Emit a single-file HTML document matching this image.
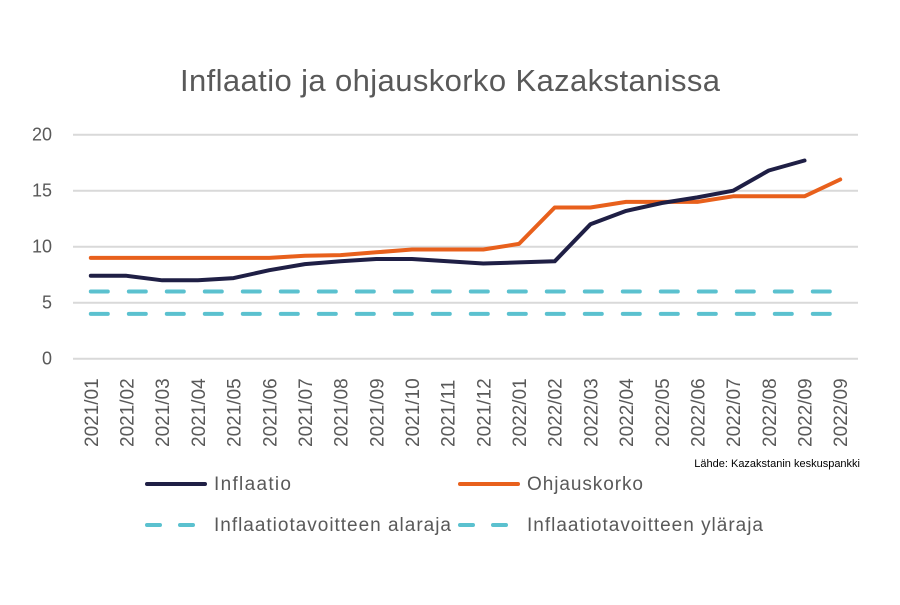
<!DOCTYPE html>
<html><head><meta charset="utf-8"><style>
body{margin:0;background:#fff;}
svg text{font-family:"Liberation Sans",sans-serif;fill:#595959;}
</style></head><body>
<svg id="c" width="900" height="600" xmlns="http://www.w3.org/2000/svg">
<rect width="900" height="600" fill="#fff"/>
<text x="450" y="91" font-size="31" text-anchor="middle" textLength="540">Inflaatio ja ohjauskorko Kazakstanissa</text>
<g id="grid"></g><g id="yt"></g><g id="xt"></g><g id="series"></g>
<text x="860" y="467" font-size="11" text-anchor="end" fill="#000" style="fill:#000">Lähde: Kazakstanin keskuspankki</text>
<g>
<g><line x1="147" y1="484" x2="205" y2="484" stroke="#1f1f45" stroke-width="4" stroke-linecap="round"/><text x="214" y="490" font-size="19" textLength="77">Inflaatio</text></g>
<g><line x1="460" y1="484" x2="518" y2="484" stroke="#e8601c" stroke-width="4" stroke-linecap="round"/><text x="527" y="490" font-size="19" textLength="116">Ohjauskorko</text></g>
<g><line x1="147" y1="525" x2="205" y2="525" stroke="#5bc1cf" stroke-width="4" stroke-linecap="round" stroke-dasharray="13 20"/><text x="214" y="531" font-size="19" textLength="237">Inflaatiotavoitteen alaraja</text></g>
<g><line x1="460" y1="525" x2="518" y2="525" stroke="#5bc1cf" stroke-width="4" stroke-linecap="round" stroke-dasharray="13 20"/><text x="527" y="531" font-size="19" textLength="236">Inflaatiotavoitteen yläraja</text></g>
</g>
</svg>
<script>
const categories=["2021/01","2021/02","2021/03","2021/04","2021/05","2021/06","2021/07","2021/08","2021/09","2021/10","2021/11","2021/12","2022/01","2022/02","2022/03","2022/04","2022/05","2022/06","2022/07","2022/08","2022/09","2022/09"];
const inflaatio=[7.4,7.4,7.0,7.0,7.2,7.9,8.45,8.7,8.9,8.9,8.7,8.5,8.6,8.7,12.0,13.2,13.9,14.4,15.0,16.8,17.7,null];
const ohjauskorko=[9,9,9,9,9,9,9.2,9.25,9.5,9.75,9.75,9.75,10.25,13.5,13.5,14,14,14,14.5,14.5,14.5,16];
const alaraja=[4,4,4,4,4,4,4,4,4,4,4,4,4,4,4,4,4,4,4,4,4,4];
const ylaraja=[6,6,6,6,6,6,6,6,6,6,6,6,6,6,6,6,6,6,6,6,6,6];
const yTicks=[0,5,10,15,20];
const NS="http://www.w3.org/2000/svg";
const L=73,R=858,T=134.7,B=358.7;
const slot=(R-L)/categories.length;
const x=i=>L+slot*(i+0.5);
const y=v=>B-(v/20)*(B-T);
function mk(t,a,p){const e=document.createElementNS(NS,t);for(const k in a)e.setAttribute(k,a[k]);p.appendChild(e);return e;}
const grid=document.getElementById('grid'),yt=document.getElementById('yt'),xt=document.getElementById('xt'),ser=document.getElementById('series');
yTicks.forEach(v=>{
const g=mk('line',{x1:L,x2:R,y1:y(v),y2:y(v),stroke:'#d9d9d9','stroke-width':2},grid);


const t=mk('text',{x:52,y:y(v)+6,'font-size':18,'text-anchor':'end'},yt);t.textContent=v;


});
categories.forEach((c,i)=>{
const t=mk('text',{transform:`translate(${x(i)+7},447) rotate(-90)`,'font-size':19},xt);t.textContent=c;


});
function path(arr){let d='';let s=false;arr.forEach((v,i)=>{if(v==null){s=false;return;}d+=(s?'L':'M')+x(i).toFixed(1)+','+y(v).toFixed(1);s=true;});return d;}
[[alaraja,'#5bc1cf',true,'line-alaraja'],[ylaraja,'#5bc1cf',true,'line-ylaraja'],[ohjauskorko,'#e8601c',false,'line-ohjauskorko'],[inflaatio,'#1f1f45',false,'line-inflaatio']].forEach(([a,c,dash,n])=>{
const p=mk('path',{d:path(a),fill:'none',stroke:c,'stroke-width':4,'stroke-linecap':'round','stroke-linejoin':'round'},ser);
if(dash)p.setAttribute('stroke-dasharray','17 21');


});
</script>
</body></html>
